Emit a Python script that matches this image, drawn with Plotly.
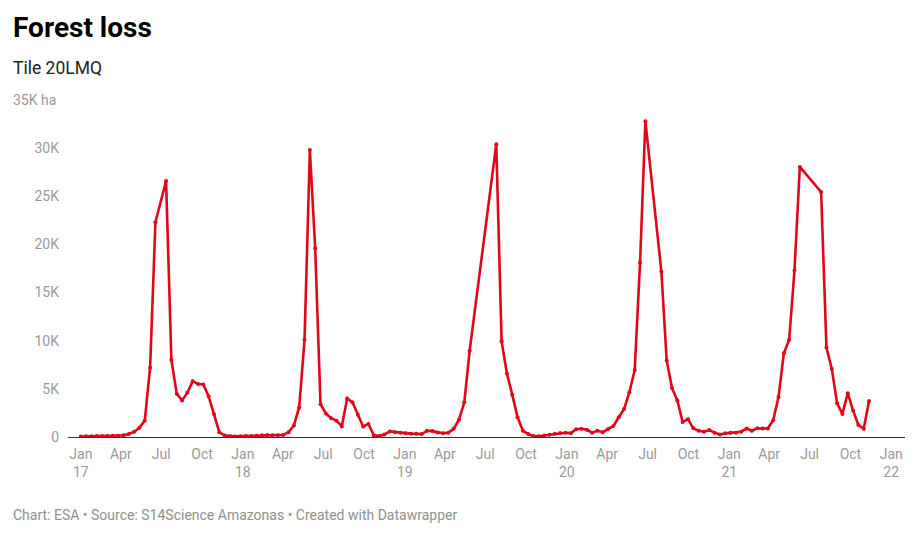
import plotly.graph_objects as go

# Acquisition dates (12-day cycle, gaps where no data)
dates = [
    "2017-01-01", "2017-01-13", "2017-01-25", "2017-02-06", "2017-02-18", "2017-03-02", "2017-03-14",
    "2017-03-26", "2017-04-07", "2017-04-19", "2017-05-01", "2017-05-13", "2017-05-25", "2017-06-06",
    "2017-06-18", "2017-07-12", "2017-07-24", "2017-08-05", "2017-08-17", "2017-08-29", "2017-09-10",
    "2017-09-22", "2017-10-04", "2017-10-16", "2017-10-28", "2017-11-09", "2017-11-21", "2017-12-03",
    "2017-12-15", "2017-12-27",
    "2018-01-08", "2018-01-20", "2018-02-01", "2018-02-13", "2018-02-25", "2018-03-09", "2018-03-21",
    "2018-04-02", "2018-04-14", "2018-04-26", "2018-05-08", "2018-05-20", "2018-06-01", "2018-06-13",
    "2018-06-25", "2018-07-07", "2018-07-19", "2018-07-31", "2018-08-12", "2018-08-24", "2018-09-05",
    "2018-09-17", "2018-09-29", "2018-10-11", "2018-10-23", "2018-11-04", "2018-11-16", "2018-11-28",
    "2018-12-10", "2018-12-22",
    "2019-01-03", "2019-01-15", "2019-01-27", "2019-02-08", "2019-02-20", "2019-03-04", "2019-03-16",
    "2019-03-28", "2019-04-09", "2019-04-21", "2019-05-03", "2019-05-15", "2019-05-27", "2019-07-26",
    "2019-08-07", "2019-08-19", "2019-08-31", "2019-09-12", "2019-09-24", "2019-10-06", "2019-10-18",
    "2019-10-30", "2019-11-11", "2019-11-23", "2019-12-05", "2019-12-17", "2019-12-29",
    "2020-01-10", "2020-01-22", "2020-02-03", "2020-02-15", "2020-02-27", "2020-03-10", "2020-03-22",
    "2020-04-03", "2020-04-15", "2020-04-27", "2020-05-09", "2020-05-21", "2020-06-02", "2020-06-14",
    "2020-06-26", "2020-08-01", "2020-08-13", "2020-08-25", "2020-09-06", "2020-09-18", "2020-09-30",
    "2020-10-12", "2020-10-24", "2020-11-05", "2020-11-17", "2020-11-29", "2020-12-11", "2020-12-23",
    "2021-01-04", "2021-01-16", "2021-01-28", "2021-02-09", "2021-02-21", "2021-03-05", "2021-03-17",
    "2021-03-29", "2021-04-10", "2021-04-22", "2021-05-04", "2021-05-16", "2021-05-28", "2021-06-09",
    "2021-07-27", "2021-08-08", "2021-08-20", "2021-09-01", "2021-09-13", "2021-09-25", "2021-10-07",
    "2021-10-19", "2021-10-31", "2021-11-12",
]

# Forest loss (ha)
loss_ha = [
    50, 80, 90, 100, 100, 100, 120,
    130, 180, 300, 550, 950, 1700, 7200,
    22300, 26600, 8000, 4500, 3800, 4600, 5800,
    5500, 5450, 4200, 2400, 500, 150, 80,
    60, 80,
    100, 110, 130, 180, 200, 170, 180,
    220, 500, 1200, 3100, 10100, 29800, 19600,
    3400, 2450, 1950, 1700, 1100, 4000, 3600,
    2300, 1100, 1350, 170, 100, 250, 580,
    500, 450,
    400, 350, 350, 300, 650, 620, 480,
    400, 450, 850, 1800, 3600, 8950, 30400,
    9950, 6600, 4400, 2050, 650, 300, 100,
    80, 150, 240, 330, 420, 440,
    400, 800, 850, 750, 450, 650, 500,
    820, 1150, 2050, 2900, 4650, 6950, 18100,
    32800, 17200, 7950, 5100, 3800, 1550, 1850,
    900, 650, 550, 720, 450, 250, 380,
    430, 450, 550, 880, 650, 900, 880,
    880, 1750, 4150, 8700, 10100, 17300, 28050,
    25450, 9300, 7100, 3500, 2400, 4550, 2750,
    1250, 850, 3750,
]

x_tick_vals = [
    "2017-01-01", "2017-04-01", "2017-07-01", "2017-10-01",
    "2018-01-01", "2018-04-01", "2018-07-01", "2018-10-01",
    "2019-01-01", "2019-04-01", "2019-07-01", "2019-10-01",
    "2020-01-01", "2020-04-01", "2020-07-01", "2020-10-01",
    "2021-01-01", "2021-04-01", "2021-07-01", "2021-10-01",
    "2022-01-01",
]
x_tick_text = [
    "Jan<br>17", "Apr", "Jul", "Oct",
    "Jan<br>18", "Apr", "Jul", "Oct",
    "Jan<br>19", "Apr", "Jul", "Oct",
    "Jan<br>20", "Apr", "Jul", "Oct",
    "Jan<br>21", "Apr", "Jul", "Oct",
    "Jan<br>22",
]
y_tick_vals = [0, 5000, 10000, 15000, 20000, 25000, 30000]
y_tick_text = ["0", "5K", "10K", "15K", "20K", "25K", "30K"]

RED = "#e1061a"
GRAY = "#9a9a9a"
FONT = "Roboto"

# page body has an 8px margin, so the figure is drawn at offset (8, 8)
OFF = 8
W, H = 920 - OFF, 537 - OFF
L = 68 - OFF
T = 100 - OFF
R = W - (905 - OFF)
B = H - (437 - OFF)
ph = H - T - B
pw = W - L - R

def py(y_px):
    return (H - B - (y_px - OFF)) / ph

def px(x_px):
    return (x_px - OFF - L) / pw

fig = go.Figure()
fig.add_trace(go.Scatter(
    x=dates, y=loss_ha, mode="lines+markers",
    line=dict(color=RED, width=2.6),
    marker=dict(color=RED, size=4),
    hoverinfo="x+y", showlegend=False,
))

fig.update_layout(
    width=W, height=H,
    margin=dict(l=L, r=R, t=T, b=B),
    paper_bgcolor="white", plot_bgcolor="white",
    font=dict(family=FONT, color=GRAY, size=14),
    xaxis=dict(
        type="date", range=["2016-12-03", "2022-02-01"],
        tickmode="array", tickvals=x_tick_vals, ticktext=x_tick_text,
        showgrid=False, zeroline=False, showline=True,
        linecolor="#333333", linewidth=1.3, ticks="",
        tickfont=dict(family=FONT, size=14, color=GRAY),
        ticklabelstandoff=4,
    ),
    yaxis=dict(
        range=[0, 35000], tickmode="array", tickvals=y_tick_vals, ticktext=y_tick_text,
        showgrid=False, zeroline=False, showline=False, ticks="",
        tickfont=dict(family=FONT, size=14, color=GRAY),
        ticklabelstandoff=8,
    ),
    annotations=[
        dict(text="<b>Forest loss</b>", xref="paper", yref="paper", x=px(11), y=py(28),
             xanchor="left", yanchor="middle", showarrow=False,
             font=dict(family=FONT, size=28, color="#000000")),
        dict(text="Tile 20LMQ", xref="paper", yref="paper", x=px(11), y=py(68),
             xanchor="left", yanchor="middle", showarrow=False,
             font=dict(family=FONT, size=17.5, color="#222222")),
        dict(text="35K ha", xref="paper", yref="y", x=px(11), y=35000,
             xanchor="left", yanchor="middle", showarrow=False,
             font=dict(family=FONT, size=14, color=GRAY)),
        dict(text="Chart: ESA • Source: S14Science Amazonas • Created with Datawrapper",
             xref="paper", yref="paper", x=px(11), y=py(515),
             xanchor="left", yanchor="middle", showarrow=False,
             font=dict(family=FONT, size=14, color="#909090")),
    ],
)

fig.write_html("out.html")
